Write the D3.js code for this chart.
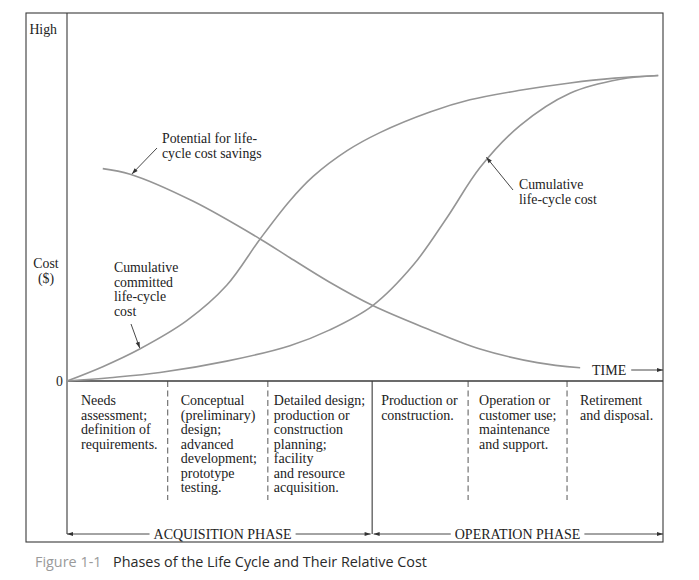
<!DOCTYPE html>
<html><head><meta charset="utf-8">
<script src="https://cdn.jsdelivr.net/npm/d3@7"></script>
<style>body{margin:0;background:#fff}</style>
</head><body>
<svg id="c" width="699" height="580"></svg>
<script>
// ---------- data ----------
const yTickValues = [0, 95.5];
const yTickLabels = ["0", "High"];

const timePotential = [6.0, 10.6, 21.1, 32.4, 37.4, 44.0, 51.3, 60.1, 69.3, 78.9, 86.1];
const potential     = [57.7, 56.2, 48.9, 38.6, 33.5, 26.9, 20.5, 14.4, 8.7, 5.0, 3.6];

const timeCommitted = [0, 6.0, 12.2, 20.1, 26.8, 32.4, 37.4, 41.3, 47.0, 52.5, 60.9, 67.6, 76.0, 84.4, 91.9, 99.2];
const committed     = [0, 3.9, 8.7, 16.4, 26.0, 38.6, 49.0, 55.6, 62.6, 67.5, 73.1, 76.4, 79.0, 81.0, 82.3, 83.0];

const timeLcc = [0, 7.2, 15.6, 26.8, 37.4, 44.1, 51.3, 58.1, 63.8, 69.3, 76.0, 84.4, 92.8, 99.2];
const lcc     = [0, 0.9, 2.3, 5.4, 9.6, 13.9, 20.5, 31.5, 44.5, 58.0, 69.4, 78.2, 82.0, 83.0];

const phaseStarts = [0, 16.9, 33.7, 51.2, 67.3, 83.9];
const phaseTexts = [
  ["Needs", "assessment;", "definition of", "requirements."],
  ["Conceptual", "(preliminary)", "design;", "advanced", "development;", "prototype", "testing."],
  ["Detailed design;", "production or", "construction", "planning;", "facility", "and resource", "acquisition."],
  ["Production or", "construction."],
  ["Operation or", "customer use;", "maintenance", "and support."],
  ["Retirement", "and disposal."]
];
const majorPhases = [
  {label: "ACQUISITION PHASE", from: 0, to: 51.2},
  {label: "OPERATION PHASE", from: 51.2, to: 100}
];

// ---------- layout ----------
const svg = d3.select("#c");
const L = 26, IL = 67, R = 663, T = 13, B = 542, BASE = 381, ARROWY = 534;
const x = d3.scaleLinear().domain([0, 100]).range([IL, R]);
const y = d3.scaleLinear().domain([0, 100]).range([BASE, T]);
const serif = "'Liberation Serif','Times New Roman',serif";
const ink = "#222", lineInk = "#3a3a3a", curveInk = "#959595";

const defs = svg.append("defs");
defs.append("marker").attr("id", "ah").attr("viewBox", "0 0 10 10")
  .attr("refX", 10).attr("refY", 5).attr("markerWidth", 9).attr("markerHeight", 6)
  .attr("orient", "auto-start-reverse").attr("markerUnits", "userSpaceOnUse")
  .append("path").attr("d", "M0,1.5 L10,5 L0,8.5 Z").attr("fill", "#333");

// frame
svg.append("rect").attr("x", L).attr("y", T).attr("width", R - L).attr("height", B - T)
  .attr("fill", "none").attr("stroke", lineInk).attr("stroke-width", 1.1);
svg.append("line").attr("x1", IL).attr("x2", IL).attr("y1", T).attr("y2", ARROWY)
  .attr("stroke", lineInk).attr("stroke-width", 1.1);
svg.append("line").attr("x1", IL).attr("x2", R).attr("y1", BASE).attr("y2", BASE)
  .attr("stroke", lineInk).attr("stroke-width", 1.3);

// y axis labels through axis
const yAxis = d3.axisLeft(y).tickValues(yTickValues).tickSize(0).tickPadding(4)
  .tickFormat((d, i) => yTickLabels[i]);
const ga = svg.append("g").attr("transform", `translate(${IL},0)`).call(yAxis);
ga.select(".domain").remove();
ga.selectAll("text").attr("font-family", serif).attr("font-size", 13.8).attr("fill", ink);
ga.selectAll(".tick").filter((d, i) => i === 1).select("text").attr("x", -10);

svg.append("text").attr("x", 46).attr("y", 268).attr("text-anchor", "middle")
  .attr("font-family", serif).attr("font-size", 13.8).attr("fill", ink).text("Cost");
svg.append("text").attr("x", 46).attr("y", 283).attr("text-anchor", "middle")
  .attr("font-family", serif).attr("font-size", 13.8).attr("fill", ink).text("($)");

// curves
const line = d3.line().x(d => x(d[0])).y(d => y(d[1])).curve(d3.curveCatmullRom.alpha(0.5));
function drawCurve(xs, ys) {
  svg.append("path").datum(xs.map((v, i) => [v, ys[i]])).attr("d", line)
    .attr("fill", "none").attr("stroke", curveInk).attr("stroke-width", 1.6);
}
drawCurve(timePotential, potential);
drawCurve(timeCommitted, committed);
drawCurve(timeLcc, lcc);

// annotations
function multiText(x0, y0, lines, dy, size) {
  const t = svg.append("text").attr("font-family", serif).attr("font-size", size || 13.8).attr("fill", ink);
  lines.forEach((s, i) => t.append("tspan").attr("x", x0).attr("y", y0 + i * dy).text(s));
  return t;
}
function pointer(x1, y1, x2, y2) {
  svg.append("line").attr("x1", x1).attr("y1", y1).attr("x2", x2).attr("y2", y2)
    .attr("stroke", "#333").attr("stroke-width", 0.9).attr("marker-end", "url(#ah)");
}
multiText(162, 143, ["Potential for life-", "cycle cost savings"], 15);
pointer(157, 148, x(10.9), y(56.0) - 1);

multiText(114, 272, ["Cumulative", "committed", "life-cycle", "cost"], 14.7);
pointer(131, 324, x(12.2), y(8.7) - 1);

multiText(519, 189, ["Cumulative", "life-cycle cost"], 15);
pointer(513, 190, x(70.2) + 1, y(60.8));

// TIME label
const tt = svg.append("text").attr("x", 592).attr("y", 375).attr("font-family", serif)
  .attr("font-size", 14).attr("fill", ink).text("TIME");
const ttw = tt.node().getComputedTextLength();
svg.append("line").attr("x1", 592 + ttw + 5).attr("x2", R).attr("y1", 370).attr("y2", 370)
  .attr("stroke", "#333").attr("stroke-width", 0.9).attr("marker-end", "url(#ah)");

// phase dividers
phaseStarts.slice(1).forEach(p => {
  const solid = majorPhases.some(m => m.from === p);
  svg.append("line").attr("x1", x(p)).attr("x2", x(p)).attr("y1", BASE)
    .attr("y2", solid ? ARROWY : 500)
    .attr("stroke", solid ? lineInk : "#444").attr("stroke-width", solid ? 1.1 : 0.9)
    .attr("stroke-dasharray", solid ? null : "6,3.5");
});
const textOffsets = [14, 13, 6, 9, 11, 13];
phaseTexts.forEach((lines, i) => {
  multiText(x(phaseStarts[i]) + textOffsets[i], 405, lines, 14.5, 14);
});

// major phase arrows
majorPhases.forEach(m => {
  const x0 = x(m.from) + (m.from === 0 ? 0 : 1.5), x1 = x(m.to) - (m.to === 100 ? 0 : 1.5);
  const cx = (x(m.from) + x(m.to)) / 2 + (m.from === 0 ? 3 : 0);
  const t = svg.append("text").attr("x", cx).attr("y", ARROWY + 5).attr("text-anchor", "middle")
    .attr("font-family", serif).attr("font-size", 14).attr("fill", ink).text(m.label);
  const w = t.node().getComputedTextLength();
  svg.append("line").attr("x1", cx - w / 2 - 4).attr("x2", x0).attr("y1", ARROWY).attr("y2", ARROWY)
    .attr("stroke", "#333").attr("stroke-width", 0.9).attr("marker-end", "url(#ah)");
  svg.append("line").attr("x1", cx + w / 2 + 4).attr("x2", x1).attr("y1", ARROWY).attr("y2", ARROWY)
    .attr("stroke", "#333").attr("stroke-width", 0.9).attr("marker-end", "url(#ah)");
});

// caption
const cap = svg.append("text").attr("x", 35).attr("y", 567).attr("font-family", "'Open Sans','Noto Sans',sans-serif")
  .attr("font-size", 14.4);
cap.append("tspan").attr("fill", "#9a9a9a").text("Figure 1-1");
cap.append("tspan").attr("x", 113).attr("fill", "#2a2a2a").text("Phases of the Life Cycle and Their Relative Cost");
</script>
</body></html>
